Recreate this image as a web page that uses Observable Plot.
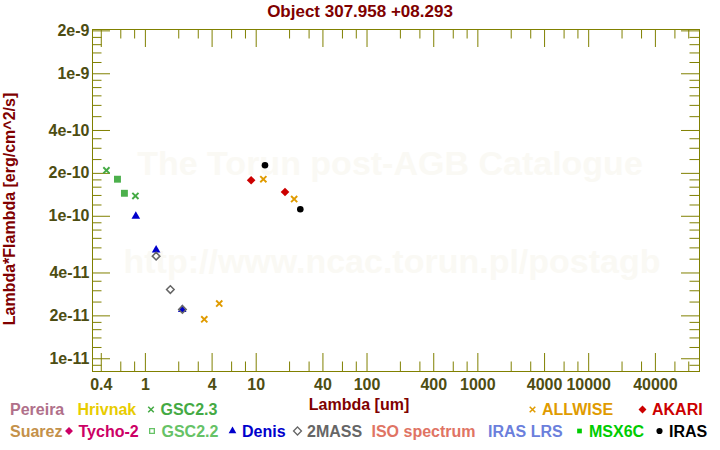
<!DOCTYPE html>
<html><head><meta charset="utf-8">
<script src="https://cdn.jsdelivr.net/npm/d3@7"></script>
<script src="https://cdn.jsdelivr.net/npm/@observablehq/plot@0.6"></script>
<style>
html,body{margin:0;padding:0;background:#fff;}
#wrap{position:relative;width:720px;height:450px;overflow:hidden;font-family:"Liberation Sans",Arial,Helvetica,sans-serif;font-weight:bold;}
#wrap svg.plot{position:absolute;left:0;top:0;}
.t{position:absolute;left:0;top:0;white-space:nowrap;font-size:16px;line-height:16px;transform-origin:0 0;}
</style></head><body><div id="wrap"></div>
<script>
// ---------------- data ----------------
const gsc23Lambda = [0.445, 0.813];
const gsc23Flux = [2.10e-10, 1.39e-10];
const gsc22Lambda = [0.56, 0.647];
const gsc22Flux = [1.82e-10, 1.45e-10];
const denisLambda = [0.82, 1.25, 2.15];
const denisFlux = [1.0e-10, 5.8e-11, 2.22e-11];
const twomassLambda = [1.25, 1.68, 2.16];
const twomassFlux = [5.25e-11, 3.06e-11, 2.22e-11];
const allwiseLambda = [3.4, 4.64, 11.6, 22.0];
const allwiseFlux = [1.89e-11, 2.44e-11, 1.82e-10, 1.32e-10];
const akariLambda = [9.0, 18.2];
const akariFlux = [1.79e-10, 1.48e-10];
const irasLambda = [12.0, 25.0];
const irasFlux = [2.28e-10, 1.12e-10];

const xTickValues = [0.4, 1, 4, 10, 40, 100, 400, 1000, 4000, 10000, 40000];
const xTickLabels = ["0.4","1","4","10","40","100","400","1000","4000","10000","40000"];
const yTickValues = [1e-11, 2e-11, 4e-11, 1e-10, 2e-10, 4e-10, 1e-9, 2e-9];
const yTickLabels = ["1e-11","2e-11","4e-11","1e-10","2e-10","4e-10","1e-9","2e-9"];
const xMajorMantissas = [1, 4];
const xMinorMantissas = [2, 3, 6, 8];
const yMajorMantissas = [1, 2, 4];
const yMinorMantissas = [1.2, 1.4, 1.6, 1.8, 2.5, 3, 3.5, 5, 6, 7, 8, 9];

const legendRow1 = ["Pereira", "Hrivnak", "GSC2.3", "ALLWISE", "AKARI"];
const legendRow2 = ["Suarez", "Tycho-2", "GSC2.2", "Denis", "2MASS", "ISO spectrum", "IRAS LRS", "MSX6C", "IRAS"];

const titleText = "Object 307.958 +08.293";
const xLabelText = "Lambda [um]";
const yLabelText = "Lambda*Flambda [erg/cm^2/s]";
const watermark1 = "The Torun post-AGB Catalogue";
const watermark2 = "http://www.ncac.torun.pl/postagb";

// ---------------- styles / layout ----------------
const FONT = '"Liberation Sans", Arial, Helvetica, sans-serif';
const frameColor = "#808000";
const tickTextColor = "#4d4d12";
const labelColor = "#800000";
const W = 720, H = 450;
const mL = 92, mR = 21, mT = 29, mB = 79;
const plotW = W - mL - mR, plotH = H - mT - mB;
const xDomain = [1/3, 1e5];
const yDomain = [8.14e-12, 2.045e-9];

const catStyle = {
  "Pereira": {color: "#b0708a"},
  "Hrivnak": {color: "#e8cc00"},
  "GSC2.3": {color: "#44aa44", sym: "times"},
  "ALLWISE": {color: "#e09b00", sym: "times"},
  "AKARI": {color: "#cc0000", sym: "diamond2", fill: true},
  "Suarez": {color: "#c4914a"},
  "Tycho-2": {color: "#cc0066", sym: "diamond2", fill: true},
  "GSC2.2": {color: "#66c266", sym: "square", fill: false},
  "Denis": {color: "#0000cc", sym: "triangle", fill: true},
  "2MASS": {color: "#666666", sym: "diamond2", fill: false},
  "ISO spectrum": {color: "#e07464"},
  "IRAS LRS": {color: "#6b7fdc"},
  "MSX6C": {color: "#00cc00", sym: "square", fill: true},
  "IRAS": {color: "#000000", sym: "circle", fill: true}
};

const pts = (lam, flux) => lam.map((x, i) => ({x, y: flux[i]}));
const inX = v => v >= xDomain[0] && v <= xDomain[1];
const inY = v => v >= yDomain[0] && v <= yDomain[1];
const expand = (exps, mants) => exps.flatMap(e => mants.map(m => +(m * 10 ** e).toPrecision(6)));
const xMajor = expand(d3.range(-1, 5), xMajorMantissas).filter(inX);
const xMinor = expand(d3.range(-1, 5), xMinorMantissas).filter(inX);
const yMajor = expand(d3.range(-12, -8), yMajorMantissas).filter(inY);
const yMinor = expand(d3.range(-12, -8), yMinorMantissas).filter(inY);

const MAJ = 18, MIN = 9.5;
const ticksX = (vals, len) => [
  Plot.tickX(vals, {x: d => d, stroke: frameColor, insetTop: plotH - len}),
  Plot.tickX(vals, {x: d => d, stroke: frameColor, insetBottom: plotH - len})
];
const ticksY = (vals, len) => [
  Plot.tickY(vals, {y: d => d, stroke: frameColor, insetRight: plotW - len}),
  Plot.tickY(vals, {y: d => d, stroke: frameColor, insetLeft: plotW - len})
];

const chart = Plot.plot({
  width: W, height: H,
  marginLeft: mL, marginRight: mR, marginTop: mT, marginBottom: mB,
  x: {type: "log", domain: xDomain, axis: null},
  y: {type: "log", domain: yDomain, axis: null},
  style: {fontFamily: FONT, background: "white", overflow: "visible"},
  marks: [
    Plot.text([watermark1], {text: d => d, frameAnchor: "middle", dx: -6, dy: -36.5, fontSize: 34, fontWeight: "bold", fill: "#faf9f4"}),
    Plot.text([watermark2], {text: d => d, frameAnchor: "middle", dx: -4, dy: 61.5, fontSize: 34, fontWeight: "bold", fill: "#faf9f4"}),
    ...ticksX(xMajor, MAJ), ...ticksX(xMinor, MIN),
    ...ticksY(yMajor, MAJ), ...ticksY(yMinor, MIN),
    Plot.frame({stroke: frameColor}),
    Plot.text(xTickValues, {x: d => d, text: (d, i) => xTickLabels[i], frameAnchor: "bottom", lineAnchor: "top", dy: 7, fontSize: 16, fontWeight: "bold", fill: tickTextColor}),
    Plot.text(yTickValues, {y: d => d, text: (d, i) => yTickLabels[i], frameAnchor: "left", textAnchor: "end", dx: -3, fontSize: 16, fontWeight: "bold", fill: tickTextColor}),
    Plot.dot(pts(gsc23Lambda, gsc23Flux), {x: "x", y: "y", symbol: "times", r: 2.9, stroke: "#44aa44", strokeWidth: 1.9}),
    Plot.dot(pts(gsc22Lambda, gsc22Flux), {x: "x", y: "y", symbol: "square", r: 3.9, fill: "#4cb04c", stroke: "none"}),
    Plot.dot(pts(denisLambda, denisFlux), {x: "x", y: "y", symbol: "triangle", r: 3.2, fill: "#0000cc", stroke: "none"}),
    Plot.dot(pts(twomassLambda, twomassFlux), {x: "x", y: "y", symbol: "diamond2", r: 3.4, fill: "none", stroke: "#666666", strokeWidth: 1.5}),
    Plot.dot(pts(allwiseLambda, allwiseFlux), {x: "x", y: "y", symbol: "times", r: 2.9, stroke: "#e09b00", strokeWidth: 1.9}),
    Plot.dot(pts(akariLambda, akariFlux), {x: "x", y: "y", symbol: "diamond2", r: 3.9, fill: "#cc0000", stroke: "none"}),
    Plot.dot(pts(irasLambda, irasFlux), {x: "x", y: "y", symbol: "circle", r: 3.3, fill: "#000000", stroke: "none"})
  ]
});
chart.classList.add("plot");
const wrap = document.getElementById("wrap");
wrap.appendChild(chart);

// ---------------- surrounding text ----------------
function addText(text, x, baseline, color, center, rotate, size) {
  const s = document.createElement("span");
  s.className = "t";
  s.textContent = text;
  s.style.color = color;
  if (size) { s.style.fontSize = size + "px"; }
  if (rotate) s.style.transform = `translate(${x}px,${baseline}px) rotate(-90deg) translate(-50%,-13.5px)`;
  else s.style.transform = `translate(${x}px,${baseline - 13.5}px)` + (center ? " translate(-50%,0)" : "");
  wrap.appendChild(s);
  return s;
}
addText(titleText, 360, 17.5, labelColor, true, false, 17);
addText(xLabelText, 359, 410.5, labelColor, true);
addText(yLabelText, 15, 209, labelColor, false, true);

// legend
const row1X = [10, 77.5, 160.5, 542, 652];
const row2X = [10, 78.5, 161.5, 242, 307, 371.5, 488, 589, 669];
const mk = d3.select(wrap).append("svg")
  .attr("width", W).attr("height", H)
  .style("position", "absolute").style("left", 0).style("top", 0).style("pointer-events", "none");
const symMap = {times: d3.symbolTimes, diamond2: d3.symbolDiamond2, square: d3.symbolSquare, triangle: d3.symbolTriangle, circle: d3.symbolCircle};
const symSize = {times: 22, diamond2: 40, square: 22, triangle: 26, circle: 30};
function legendRow(names, xs, baseline) {
  names.forEach((n, i) => {
    const st = catStyle[n];
    addText(n, xs[i], baseline, st.color);
    if (st.sym) {
      const cx = xs[i] - 9.5, cy = baseline - 6;
      const p = mk.append("path")
        .attr("d", d3.symbol(symMap[st.sym], symSize[st.sym])())
        .attr("transform", `translate(${cx},${cy})`);
      if (st.sym === "times") p.attr("fill", "none").attr("stroke", st.color).attr("stroke-width", 1.5);
      else if (st.fill) p.attr("fill", st.color);
      else p.attr("fill", "none").attr("stroke", st.color).attr("stroke-width", 1.3);
    }
  });
}
legendRow(legendRow1, row1X, 415.5);
legendRow(legendRow2, row2X, 437);
</script></body></html>
